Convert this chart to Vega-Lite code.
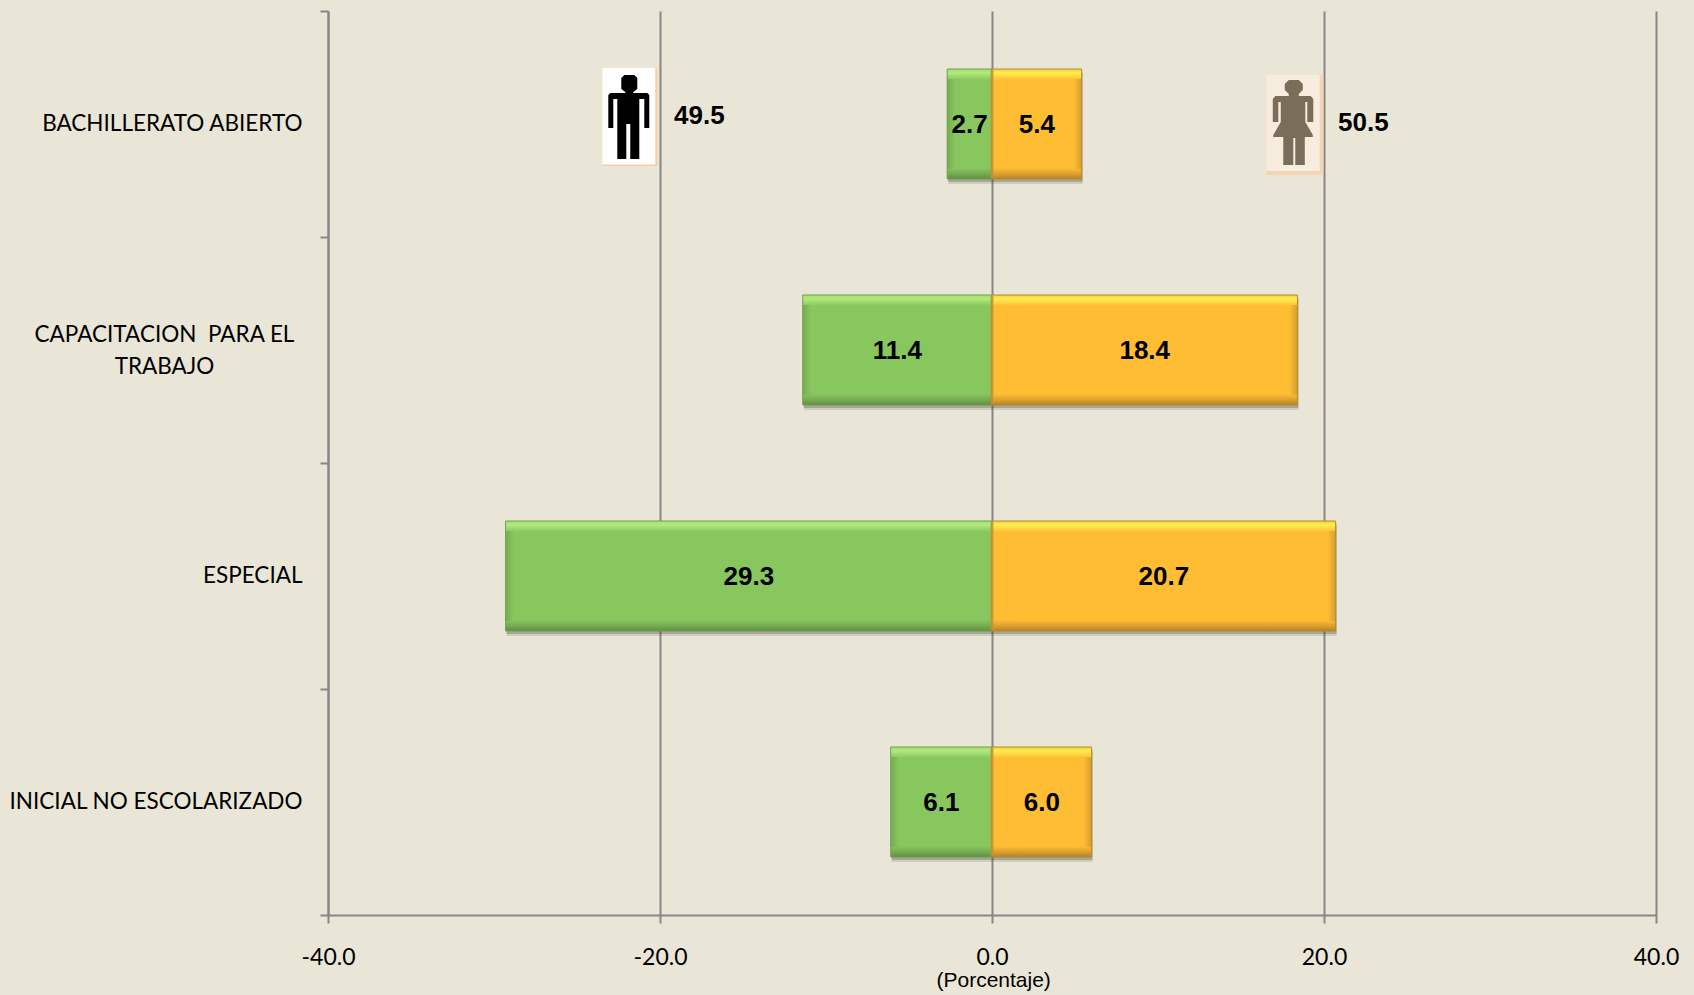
{
"$schema":"https://vega.github.io/schema/vega-lite/v6.json",
"width":1328,"height":904,
"padding":{"left":328,"top":11,"right":38,"bottom":80},
"autosize":{"type":"none"},
"background":"#e9e6d8",
"config":{"view":{"stroke":null}},
"datasets":{
"barras":[
{"nivel":"BACHILLERATO ABIERTO","sexo":"Hombres","porcentaje":-2.7,"centro":-1.35,"cero":0,"etiqueta":"2.7"},
{"nivel":"BACHILLERATO ABIERTO","sexo":"Mujeres","porcentaje":5.4,"centro":2.7,"cero":0,"etiqueta":"5.4"},
{"nivel":"CAPACITACION  PARA EL TRABAJO","sexo":"Hombres","porcentaje":-11.4,"centro":-5.7,"cero":0,"etiqueta":"11.4"},
{"nivel":"CAPACITACION  PARA EL TRABAJO","sexo":"Mujeres","porcentaje":18.4,"centro":9.2,"cero":0,"etiqueta":"18.4"},
{"nivel":"ESPECIAL","sexo":"Hombres","porcentaje":-29.3,"centro":-14.65,"cero":0,"etiqueta":"29.3"},
{"nivel":"ESPECIAL","sexo":"Mujeres","porcentaje":20.7,"centro":10.35,"cero":0,"etiqueta":"20.7"},
{"nivel":"INICIAL NO ESCOLARIZADO","sexo":"Hombres","porcentaje":-6.1,"centro":-3.05,"cero":0,"etiqueta":"6.1"},
{"nivel":"INICIAL NO ESCOLARIZADO","sexo":"Mujeres","porcentaje":6.0,"centro":3.0,"cero":0,"etiqueta":"6.0"}
]},
"data":{"name":"barras"},
"encoding":{
"y":{"field":"nivel","type":"nominal","sort":null,
"scale":{"domain":["BACHILLERATO ABIERTO","CAPACITACION  PARA EL TRABAJO","ESPECIAL","INICIAL NO ESCOLARIZADO"],"paddingInner":0,"paddingOuter":0},
"axis":{"title":null,"domainColor":"#868686","domainWidth":2,"tickColor":"#868686","tickWidth":2,"tickSize":8,"tickBand":"extent","labelFont":"Lato","labelFontSize":22.5,"labelColor":"#000000","labelLimit":400,"labelLineHeight":32,
"labelExpr":"datum.value=='CAPACITACION  PARA EL TRABAJO'?['CAPACITACION\u00a0\u00a0PARA EL','TRABAJO']:datum.value",
"labelAlign":{"condition":{"test":"datum.value=='CAPACITACION  PARA EL TRABAJO'","value":"center"},"value":"right"},
"labelOffset":{"condition":{"test":"datum.value=='CAPACITACION  PARA EL TRABAJO'","value":-16},"value":-1},
"labelPadding":{"condition":{"test":"datum.value=='CAPACITACION  PARA EL TRABAJO'","value":156},"value":18}}}
},
"layer":[
{"mark":{"type":"bar","size":110,"xOffset":1,"yOffset":5,"color":"#4a4a3a","opacity":0.16},
 "encoding":{"x":{"field":"porcentaje","type":"quantitative","scale":{"domain":[-40,40]},
 "axis":{"title":null,"values":[-40,-20,0,20,40],"format":".1f","labelExpr":"replace(datum.label,'\u2212','-')","grid":true,"gridColor":"#868686","gridWidth":2,"domainColor":"#868686","domainWidth":2,"tickColor":"#868686","tickWidth":2,"tickSize":8,"labelFont":"Lato","labelFontSize":23,"labelColor":"#000000","labelPadding":23,"labelFlush":false,"zindex":0}}}},
{"mark":{"type":"bar","size":110,"xOffset":1,"yOffset":3,"color":"#4a4a3a","opacity":0.3},
 "encoding":{"x":{"field":"porcentaje","type":"quantitative"}}},
{"transform":[{"filter":"datum.sexo=='Hombres'"}],
 "mark":{"type":"bar","size":110,"stroke":"#6f9f4c","strokeWidth":1,
 "color":{"gradient":"linear","x1":0,"y1":0,"x2":0,"y2":1,"stops":[{"offset":0,"color":"#a5dc70"},{"offset":0.035,"color":"#b2ea7c"},{"offset":0.1,"color":"#88c65e"},{"offset":0.9,"color":"#88c65e"},{"offset":0.96,"color":"#74a850"},{"offset":1,"color":"#5f8c42"}]}},
 "encoding":{"x":{"field":"porcentaje","type":"quantitative"}}},
{"transform":[{"filter":"datum.sexo=='Mujeres'"}],
 "mark":{"type":"bar","size":110,"stroke":"#b98a2c","strokeWidth":1,
 "color":{"gradient":"linear","x1":0,"y1":0,"x2":0,"y2":1,"stops":[{"offset":0,"color":"#f2cc45"},{"offset":0.035,"color":"#fff04e"},{"offset":0.1,"color":"#ffbd33"},{"offset":0.9,"color":"#ffbd33"},{"offset":0.96,"color":"#d89c2e"},{"offset":1,"color":"#b0832a"}]}},
 "encoding":{"x":{"field":"porcentaje","type":"quantitative"}}},
{"transform":[{"filter":"datum.sexo=='Hombres'"}],
 "mark":{"type":"tick","orient":"vertical","size":90,"thickness":8,"xOffset":4,
 "color":{"gradient":"linear","x1":0,"y1":0,"x2":1,"y2":0,"stops":[{"offset":0,"color":"#6f9f4c"},{"offset":1,"color":"#88c65e"}]}},
 "encoding":{"x":{"field":"porcentaje","type":"quantitative"}}},
{"transform":[{"filter":"datum.sexo=='Mujeres'"}],
 "mark":{"type":"tick","orient":"vertical","size":90,"thickness":8,"xOffset":-4,
 "color":{"gradient":"linear","x1":0,"y1":0,"x2":1,"y2":0,"stops":[{"offset":0,"color":"#ffbd33"},{"offset":1,"color":"#c49030"}]}},
 "encoding":{"x":{"field":"porcentaje","type":"quantitative"}}},
{"transform":[{"filter":"datum.sexo=='Mujeres'"}],
 "mark":{"type":"tick","orient":"vertical","size":108,"thickness":3,"xOffset":0,"color":"#c49030"},
 "encoding":{"x":{"field":"cero","type":"quantitative"}}},
{"mark":{"type":"text","font":"Liberation Sans","fontWeight":"bold","fontSize":26,"color":"#000000","dy":1},
 "encoding":{"x":{"field":"centro","type":"quantitative"},"text":{"field":"etiqueta"}}},
{"data":{"values":[{"nivel":"BACHILLERATO ABIERTO","pos":-21.85}]},
 "mark":{"type":"point","filled":true,"size":10000,"opacity":1,"color":"#f7cf9f","yOffset":-7,"strokeWidth":0,
 "shape":"M-.54,-.98H.56V.98H-.54Z"},
 "encoding":{"x":{"field":"pos","type":"quantitative"}}},
{"data":{"values":[{"nivel":"BACHILLERATO ABIERTO","pos":-21.85}]},
 "mark":{"type":"point","filled":true,"size":10000,"opacity":1,"color":"#ffffff","yOffset":-7,"strokeWidth":0,
 "shape":"M-.54,-.98H.52V.95H-.54Z"},
 "encoding":{"x":{"field":"pos","type":"quantitative"}}},
{"data":{"values":[{"nivel":"BACHILLERATO ABIERTO","pos":-21.85}]},
 "mark":{"type":"point","filled":true,"size":10000,"opacity":1,"color":"#000000","yOffset":-7,"strokeWidth":0,
 "shape":"M-.16,-.78L-.1,-.84H.1L.16,-.78V-.56L.08,-.5V-.48H.36L.4,-.44V.22H.3V-.36H.2V.84H.02V.14H-.06V.84H-.24V-.36H-.32V.22H-.42V-.44L-.38,-.48H-.08V-.5L-.16,-.56Z"},
 "encoding":{"x":{"field":"pos","type":"quantitative"}}},
{"data":{"values":[{"nivel":"BACHILLERATO ABIERTO","pos":18.24}]},
 "mark":{"type":"point","filled":true,"size":10000,"opacity":1,"color":"#f5d6b4","yOffset":1,"strokeWidth":0,
 "shape":"M-.57,-1H.57V1H-.57Z"},
 "encoding":{"x":{"field":"pos","type":"quantitative"}}},
{"data":{"values":[{"nivel":"BACHILLERATO ABIERTO","pos":18.24}]},
 "mark":{"type":"point","filled":true,"size":10000,"opacity":1,"color":"#f7ecdd","yOffset":1,"strokeWidth":0,
 "shape":"M-.57,-1H.5V.92H-.57Z"},
 "encoding":{"x":{"field":"pos","type":"quantitative"}}},
{"data":{"values":[{"nivel":"BACHILLERATO ABIERTO","pos":18.24}]},
 "mark":{"type":"point","filled":true,"size":10000,"opacity":1,"color":"#7a6d5a","yOffset":1,"strokeWidth":0,
 "shape":"M-.2,-.82L-.12,-.9H.08L.16,-.82V-.7L.08,-.62V-.58H.32L.37,-.52V-.06H.25V-.46H.21V-.06L.36,.2V.24H.2V.8H.01V.26H-.03V.8H-.23V.24H-.43V.2L-.28,-.06V-.46H-.33V-.06H-.44V-.52L-.39,-.58H-.12V-.62L-.2,-.7Z"},
 "encoding":{"x":{"field":"pos","type":"quantitative"}}},
{"data":{"values":[{"nivel":"BACHILLERATO ABIERTO","inicio":-19.15,"total":"49.5"}]},
 "mark":{"type":"text","align":"left","font":"Liberation Sans","fontWeight":"bold","fontSize":26,"color":"#000000","dy":-8},
 "encoding":{"x":{"field":"inicio","type":"quantitative"},"text":{"field":"total"}}},
{"data":{"values":[{"nivel":"BACHILLERATO ABIERTO","inicio":20.85,"total":"50.5"}]},
 "mark":{"type":"text","align":"left","font":"Liberation Sans","fontWeight":"bold","fontSize":26,"color":"#000000","dy":-1},
 "encoding":{"x":{"field":"inicio","type":"quantitative"},"text":{"field":"total"}}},
{"data":{"values":[{"nivel":"INICIAL NO ESCOLARIZADO","pos":0.1,"nota":"(Porcentaje)"}]},
 "mark":{"type":"text","font":"Liberation Sans","fontSize":21,"color":"#000000","dy":179,"clip":false},
 "encoding":{"x":{"field":"pos","type":"quantitative"},"text":{"field":"nota"}}}
]}
